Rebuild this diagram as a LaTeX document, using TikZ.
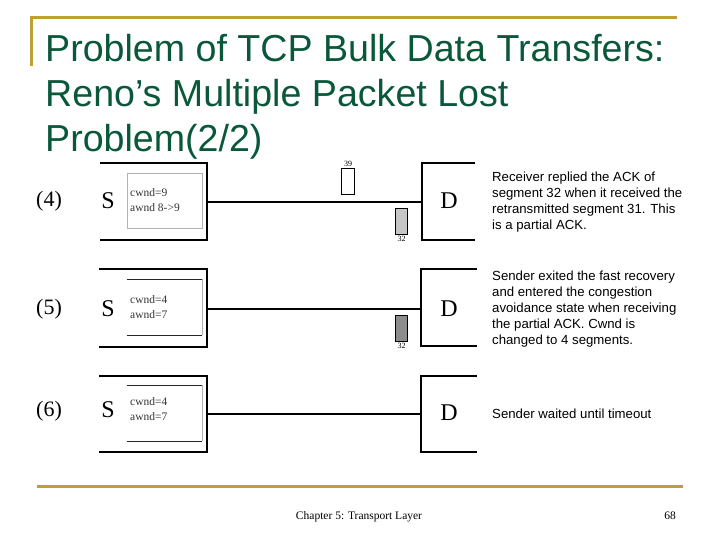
\documentclass[tikz,border=0pt]{standalone}
\usepackage{fontspec}
\setmainfont{Liberation Serif}
\newfontfamily\arialfont{Liberation Sans}
\usetikzlibrary{positioning}
\definecolor{titlegreen}{RGB}{10,88,58}
\definecolor{rulegold}{RGB}{192,160,52}
\tikzset{
    hostline/.style={line width=2pt, black},
    link/.style={line width=1.6pt, black},
    wndbox/.style={draw=gray!60, line width=0.8pt},
    wndrule/.style={line width=0.9pt, black!85},
    wndtext/.style={font=\fontsize{11.5}{14.5}\selectfont, align=left, anchor=west, inner sep=0pt, text=black!80},
    steplabel/.style={font=\fontsize{22}{22}\selectfont, inner sep=0pt},
    hostlabel/.style={font=\fontsize{24}{24}\selectfont, inner sep=0pt},
    note/.style={font=\arialfont\fontsize{13.2}{16}\selectfont, align=left, anchor=north west, inner sep=0pt},
    pkt/.style={draw=black, line width=0.6pt, minimum width=12.5pt, minimum height=26pt, inner sep=0pt},
    pktnum/.style={font=\fontsize{8}{8}\selectfont, inner sep=0.5pt}
}
\begin{document}
\begin{tikzpicture}[x=1pt, y=-1pt]
        \useasboundingbox (0,0) rectangle (720,540);
        % Frame rules
        \draw[rulegold, line width=3pt] (30,18) -- (677,18);
        \draw[rulegold, line width=2.5pt] (31.5,18) -- (31.5,66);
        \draw[rulegold, line width=3pt] (37,486) -- (683,486);
        % Title
        \node (title) [anchor=north west, inner sep=0pt, align=left, text=titlegreen, font=\arialfont\fontsize{37.6}{45}\selectfont] at (45,34)
            {Problem of TCP Bulk Data Transfers:\\Reno’s Multiple Packet Lost\\Problem(2/2)};

        % Step (4)
        \node (step4) [steplabel] at (49,201) {(4)};
        \draw[hostline] (100,163) -- (207,163) -- (207,240) -- (100,240);
        \node (src4) [hostlabel] at (108,201) {S};
        \draw[wndbox] (127,173) rectangle (202,228);
        \node (wnd4) [wndtext] at (130,200) {cwnd=9\\awnd 8->9};
        \draw[hostline] (475,163) -- (422,163) -- (422,240) -- (475,240);
        \node (dst4) [hostlabel] at (449,201) {D};
        \coordinate (s4) at (207,202);
        \coordinate (d4) at (422,202);
        \draw[link] (s4) -- (d4);
        \node (seg39) [pkt, fill=white] at (348,181) {};
        \node [pktnum, above=0pt of seg39] {39};
        \node (ack32a) [pkt, fill=gray!45] at (401.5,221) {};
        \node [pktnum, below=1pt of ack32a] {32};
        \node (note4) [note] at (492,172) {Receiver replied the ACK of\\segment 32 when it received the\\retransmitted segment 31. This\\is a partial ACK.};

        % Step (5)
        \node (step5) [steplabel] at (49,309) {(5)};
        \draw[hostline] (99,269) -- (207,269) -- (207,347) -- (99,347);
        \node (src5) [hostlabel] at (108,309) {S};
        \draw[wndrule] (127,279) -- (202,279);
        \draw[wndrule] (127,335) -- (202,335);
        \draw[wndbox] (202,279) -- (202,335);
        \node (wnd5) [wndtext] at (130,307) {cwnd=4\\awnd=7};
        \draw[hostline] (477,269) -- (421,269) -- (421,346) -- (477,346);
        \node (dst5) [hostlabel] at (449,309) {D};
        \coordinate (s5) at (207,309);
        \coordinate (d5) at (421,309);
        \draw[link] (s5) -- (d5);
        \node (ack32b) [pkt, fill=gray!90] at (401.5,328) {};
        \node [pktnum, below=1pt of ack32b] {32};
        \node (note5) [note] at (492,271) {Sender exited the fast recovery\\and entered the congestion\\avoidance state when receiving\\the partial ACK. Cwnd is\\changed to 4 segments.};

        % Step (6)
        \node (step6) [steplabel] at (49,411) {(6)};
        \draw[hostline] (99,376) -- (207,376) -- (207,452) -- (99,452);
        \node (src6) [hostlabel] at (108,410) {S};
        \draw[wndrule] (127,385) -- (202,385);
        \draw[wndrule] (127,441) -- (202,441);
        \draw[wndbox] (202,385) -- (202,441);
        \node (wnd6) [wndtext] at (130,409) {cwnd=4\\awnd=7};
        \draw[hostline] (477,376) -- (421,376) -- (421,452) -- (477,452);
        \node (dst6) [hostlabel] at (449,413) {D};
        \coordinate (s6) at (207,414);
        \coordinate (d6) at (421,414);
        \draw[link] (s6) -- (d6);
        \node (note6) [note, anchor=west] at (492,414) {Sender waited until timeout};

        % Footer
        \node (chapter) [font=\fontsize{11.5}{12}\selectfont] at (359,517) {Chapter 5: Transport Layer};
        \node (page) [font=\fontsize{11.5}{12}\selectfont] at (670,516) {68};
\end{tikzpicture}
\end{document}
